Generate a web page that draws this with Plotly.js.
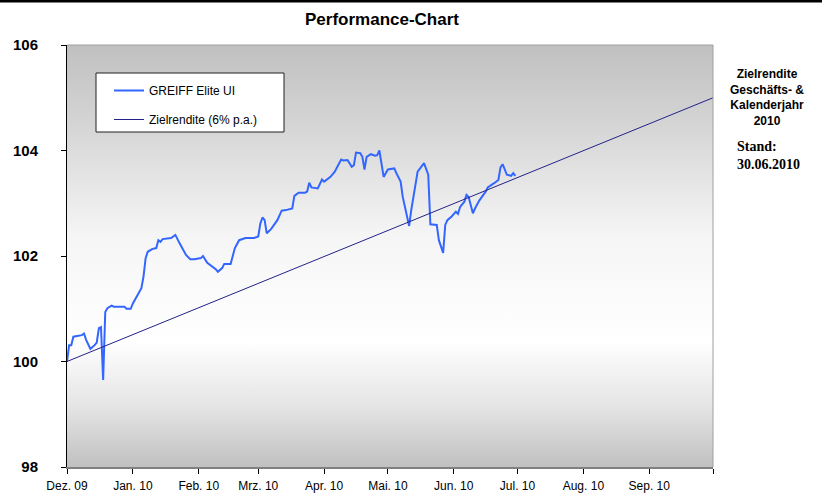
<!DOCTYPE html>
<html>
<head>
<meta charset="utf-8">
<script src="https://cdn.plot.ly/plotly-3.0.1.min.js"></script>
<style>
  html, body { margin: 0; padding: 0; background: #ffffff; }
  #chart { width: 822px; height: 494px; }
</style>
</head>
<body>
<div id="chart"></div>
<script>
// ---- data ----
const greiffDates = [
  '2009-12-01','2009-12-02','2009-12-03','2009-12-04','2009-12-08','2009-12-09','2009-12-10','2009-12-12',
  '2009-12-14','2009-12-15','2009-12-16','2009-12-17','2009-12-18','2009-12-19','2009-12-20','2009-12-22',
  '2009-12-23','2009-12-28','2009-12-29','2009-12-31','2010-01-01','2010-01-05','2010-01-06','2010-01-07',
  '2010-01-08','2010-01-10','2010-01-12','2010-01-13','2010-01-14','2010-01-15','2010-01-19','2010-01-21',
  '2010-01-23','2010-01-26','2010-01-28','2010-01-30','2010-02-02','2010-02-03','2010-02-05','2010-02-09',
  '2010-02-10','2010-02-12','2010-02-13','2010-02-16','2010-02-18','2010-02-20','2010-02-23','2010-02-27',
  '2010-03-01','2010-03-02','2010-03-03','2010-03-04','2010-03-05','2010-03-07','2010-03-10','2010-03-12',
  '2010-03-14','2010-03-17','2010-03-18','2010-03-20','2010-03-23','2010-03-24','2010-03-25','2010-03-26',
  '2010-03-29','2010-03-31','2010-04-01','2010-04-04','2010-04-06','2010-04-08','2010-04-09','2010-04-10',
  '2010-04-12','2010-04-14','2010-04-15','2010-04-16','2010-04-18','2010-04-19','2010-04-20','2010-04-21',
  '2010-04-23','2010-04-25','2010-04-26','2010-04-27','2010-04-28','2010-04-29','2010-05-01','2010-05-04',
  '2010-05-05','2010-05-07','2010-05-08','2010-05-11','2010-05-12','2010-05-14','2010-05-15','2010-05-18',
  '2010-05-20','2010-05-21','2010-05-24','2010-05-25','2010-05-27','2010-05-28','2010-05-29','2010-05-31',
  '2010-06-02','2010-06-03','2010-06-04','2010-06-06','2010-06-07','2010-06-08','2010-06-10','2010-06-11',
  '2010-06-13','2010-06-16','2010-06-17','2010-06-20','2010-06-22','2010-06-23','2010-06-24','2010-06-26',
  '2010-06-28','2010-06-29','2010-06-30'
];
const greiffValues = [
  100.00,100.31,100.31,100.47,100.50,100.53,100.41,100.24,
  100.31,100.36,100.63,100.65,99.65,100.94,101.01,101.06,
  101.04,101.04,101.00,101.00,101.10,101.39,101.61,101.96,
  102.08,102.13,102.15,102.30,102.27,102.32,102.34,102.40,
  102.24,102.02,101.94,101.94,101.96,102.00,101.87,101.75,
  101.70,101.77,101.85,101.85,102.15,102.30,102.34,102.34,
  102.37,102.62,102.73,102.68,102.43,102.51,102.68,102.86,
  102.87,102.90,103.14,103.20,103.20,103.22,103.39,103.30,
  103.28,103.45,103.41,103.50,103.60,103.77,103.83,103.81,
  103.82,103.69,103.72,103.96,103.95,103.88,103.64,103.88,
  103.93,103.90,103.91,104.00,103.75,103.50,103.64,103.66,
  103.57,103.41,103.12,102.57,102.87,103.35,103.60,103.76,
  103.54,102.60,102.59,102.30,102.06,102.59,102.68,102.75,
  102.84,102.80,102.93,103.03,103.16,103.12,102.81,102.90,
  103.05,103.22,103.30,103.38,103.44,103.68,103.74,103.54,
  103.52,103.57,103.52
];
const zielDates = ['2009-12-01', '2010-10-01'];
const zielValues = [100, 105];
const seriesNames = ['GREIFF Elite UI', 'Zielrendite (6% p.a.)'];
const monthTickDates = ['2009-12-01','2010-01-01','2010-02-01','2010-03-01','2010-04-01','2010-05-01',
                        '2010-06-01','2010-07-01','2010-08-01','2010-09-01','2010-10-01'];
const monthTickLabels = ['Dez. 09','Jan. 10','Feb. 10','Mrz. 10','Apr. 10','Mai. 10',
                         'Jun. 10','Jul. 10','Aug. 10','Sep. 10',''];
const yTickValues = [98, 100, 102, 104, 106];
const chartTitle = 'Performance-Chart';
const sideNote = 'Zielrendite<br>Geschäfts- &<br>Kalenderjahr<br>2010';
const standNote = 'Stand:<br>30.06.2010';

// ---- geometry helpers (plot area in px) ----
const W = 822, H = 494;
const L = 67, R = 713, T = 45, B = 467;
const pw = R - L, ph = B - T;
const px2x = p => (p - L) / pw;
const py2y = p => (B - p) / ph;

const gradSvg = '<svg xmlns="http://www.w3.org/2000/svg" width="100" height="100" preserveAspectRatio="none">' +
  '<defs><linearGradient id="g" x1="0" y1="0" x2="0" y2="1">' +
  '<stop offset="0" stop-color="#c0c0c0"/>' +
  '<stop offset="0.2" stop-color="#d6d6d6"/>' +
  '<stop offset="0.45" stop-color="#f5f5f5"/>' +
  '<stop offset="0.7" stop-color="#ffffff"/>' +
  '<stop offset="0.86" stop-color="#e4e4e4"/>' +
  '<stop offset="1" stop-color="#c0c0c0"/>' +
  '</linearGradient></defs><rect x="0" y="0" width="100" height="100" fill="url(#g)"/></svg>';
const gradUri = 'data:image/svg+xml;charset=utf-8,' + encodeURIComponent(gradSvg);

const traces = [
  {
    x: greiffDates, y: greiffValues, type: 'scatter', mode: 'lines',
    name: seriesNames[0], legendgroup: 'a',
    line: { color: '#3366ff', width: 2 }
  },
  {
    x: zielDates, y: zielValues, type: 'scatter', mode: 'lines',
    name: seriesNames[1], legendgroup: 'b',
    line: { color: '#22228a', width: 1 }
  }
];

const layout = {
  width: W, height: H,
  margin: { l: L, r: W - R, t: T, b: H - B, pad: 0 },
  paper_bgcolor: 'rgba(0,0,0,0)',
  plot_bgcolor: 'rgba(0,0,0,0)',
  font: { family: '"Liberation Sans", Arial, sans-serif', color: '#000000' },
  title: {
    text: '<b>' + chartTitle + '</b>',
    font: { family: '"Liberation Sans", Arial, sans-serif', size: 17, color: '#000000' },
    x: 382 / W, xanchor: 'center', xref: 'container',
    y: 1 - 19 / H, yanchor: 'middle', yref: 'container'
  },
  showlegend: true,
  legend: {
    x: px2x(109), y: py2y(76), xanchor: 'left', yanchor: 'top',
    bgcolor: 'rgba(0,0,0,0)', borderwidth: 0,
    font: { size: 12, color: '#000000' },
    traceorder: 'grouped', tracegroupgap: 10
  },
  xaxis: {
    type: 'date',
    range: [monthTickDates[0], monthTickDates[monthTickDates.length - 1]],
    tickmode: 'array', tickvals: monthTickDates, ticktext: monthTickLabels,
    ticks: 'outside', ticklen: 5, tickwidth: 1, tickcolor: '#000000',
    showline: true, linecolor: '#808080', linewidth: 2, mirror: false,
    showgrid: false, zeroline: false,
    tickfont: { size: 12, color: '#000000' },
    ticklabelstandoff: 2,
    fixedrange: true
  },
  yaxis: {
    range: [98, 106],
    tickmode: 'array', tickvals: yTickValues,
    ticks: 'outside', ticklen: 5, tickwidth: 1, tickcolor: '#000000',
    showline: true, linecolor: '#000000', linewidth: 1,
    showgrid: false, zeroline: false,
    tickfont: { size: 15, color: '#000000', weight: 'bold' },
    ticklabelstandoff: 20,
    fixedrange: true
  },
  images: [{
    source: gradUri, xref: 'paper', yref: 'paper',
    x: 0, y: 1, sizex: 1, sizey: 1, xanchor: 'left', yanchor: 'top',
    sizing: 'stretch', layer: 'below'
  }],
  shapes: [
    { type: 'line', xref: 'paper', yref: 'paper', x0: 0, x1: 1, y0: 1, y1: 1,
      line: { color: '#a0a0a0', width: 1 } },
    { type: 'line', xref: 'paper', yref: 'paper', x0: 1, x1: 1, y0: 0, y1: 1,
      line: { color: '#a0a0a0', width: 1 } },
    { type: 'rect', xref: 'paper', yref: 'paper',
      x0: px2x(96), x1: px2x(284), y0: py2y(132), y1: py2y(73),
      fillcolor: '#ffffff', line: { color: '#202020', width: 1 }, layer: 'above' },
    { type: 'line', xref: 'paper', yref: 'paper',
      x0: px2x(0), x1: px2x(W), y0: py2y(1), y1: py2y(1),
      line: { color: '#000000', width: 3 } }
  ],
  annotations: [
    { text: '<b>' + sideNote + '</b>', xref: 'paper', yref: 'paper',
      x: px2x(767), y: py2y(97), xanchor: 'center', yanchor: 'middle',
      align: 'center', showarrow: false,
      font: { family: '"Liberation Sans", Arial, sans-serif', size: 12, color: '#000000' } },
    { text: '<b>' + standNote + '</b>', xref: 'paper', yref: 'paper',
      x: px2x(735), y: py2y(155), xanchor: 'left', yanchor: 'middle',
      align: 'left', showarrow: false,
      font: { family: '"Liberation Serif", "Times New Roman", serif', size: 14, color: '#000000' } }
  ]
};

Plotly.newPlot('chart', traces, layout, { displayModeBar: false, staticPlot: true });
</script>
</body>
</html>
